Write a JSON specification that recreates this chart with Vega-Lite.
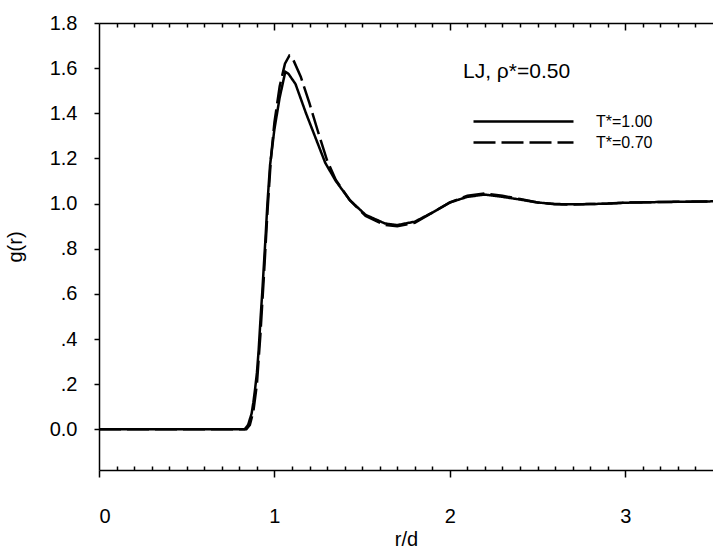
{
  "$schema": "https://vega.github.io/schema/vega-lite/v6.json",
  "width": 614,
  "height": 447,
  "autosize": "none",
  "padding": {"left": 99, "top": 23, "right": 0, "bottom": 83},
  "background": "white",
  "config": {
    "font": "Liberation Sans",
    "view": {"stroke": null},
    "axis": {"domainColor": "black", "tickColor": "black", "labelColor": "black", "titleColor": "black", "grid": false, "domainWidth": 1.5, "tickWidth": 1.5, "labelFontSize": 20, "titleFontSize": 20, "titleFontWeight": "normal"}
  },
  "data": {"values": [
    {"series": "T*=1.00", "r": 0, "g": 0},
    {"series": "T*=1.00", "r": 0.5, "g": 0},
    {"series": "T*=1.00", "r": 0.83, "g": 0},
    {"series": "T*=1.00", "r": 0.85, "g": 0.02},
    {"series": "T*=1.00", "r": 0.87, "g": 0.07},
    {"series": "T*=1.00", "r": 0.88, "g": 0.12},
    {"series": "T*=1.00", "r": 0.89, "g": 0.18},
    {"series": "T*=1.00", "r": 0.9, "g": 0.25},
    {"series": "T*=1.00", "r": 0.91, "g": 0.35},
    {"series": "T*=1.00", "r": 0.92, "g": 0.48},
    {"series": "T*=1.00", "r": 0.93, "g": 0.6},
    {"series": "T*=1.00", "r": 0.94, "g": 0.73},
    {"series": "T*=1.00", "r": 0.95, "g": 0.86},
    {"series": "T*=1.00", "r": 0.96, "g": 1.0},
    {"series": "T*=1.00", "r": 0.975, "g": 1.17},
    {"series": "T*=1.00", "r": 1.0, "g": 1.33},
    {"series": "T*=1.00", "r": 1.03, "g": 1.47},
    {"series": "T*=1.00", "r": 1.062, "g": 1.584},
    {"series": "T*=1.00", "r": 1.08, "g": 1.575},
    {"series": "T*=1.00", "r": 1.12, "g": 1.53},
    {"series": "T*=1.00", "r": 1.18, "g": 1.4},
    {"series": "T*=1.00", "r": 1.24, "g": 1.28},
    {"series": "T*=1.00", "r": 1.29, "g": 1.18},
    {"series": "T*=1.00", "r": 1.35, "g": 1.1},
    {"series": "T*=1.00", "r": 1.43, "g": 1.015},
    {"series": "T*=1.00", "r": 1.52, "g": 0.95},
    {"series": "T*=1.00", "r": 1.63, "g": 0.912},
    {"series": "T*=1.00", "r": 1.7, "g": 0.905},
    {"series": "T*=1.00", "r": 1.8, "g": 0.92},
    {"series": "T*=1.00", "r": 1.9, "g": 0.96},
    {"series": "T*=1.00", "r": 2.0, "g": 1.005},
    {"series": "T*=1.00", "r": 2.1, "g": 1.03},
    {"series": "T*=1.00", "r": 2.2, "g": 1.04},
    {"series": "T*=1.00", "r": 2.3, "g": 1.03},
    {"series": "T*=1.00", "r": 2.4, "g": 1.018},
    {"series": "T*=1.00", "r": 2.5, "g": 1.005},
    {"series": "T*=1.00", "r": 2.6, "g": 0.998},
    {"series": "T*=1.00", "r": 2.7, "g": 0.997},
    {"series": "T*=1.00", "r": 2.8, "g": 0.998},
    {"series": "T*=1.00", "r": 2.9, "g": 1.0},
    {"series": "T*=1.00", "r": 3.0, "g": 1.004},
    {"series": "T*=1.00", "r": 3.2, "g": 1.007},
    {"series": "T*=1.00", "r": 3.5, "g": 1.01},
    {"series": "T*=0.70", "r": 0, "g": 0},
    {"series": "T*=0.70", "r": 0.5, "g": 0},
    {"series": "T*=0.70", "r": 0.84, "g": 0},
    {"series": "T*=0.70", "r": 0.86, "g": 0.02},
    {"series": "T*=0.70", "r": 0.88, "g": 0.08},
    {"series": "T*=0.70", "r": 0.9, "g": 0.2},
    {"series": "T*=0.70", "r": 0.92, "g": 0.42},
    {"series": "T*=0.70", "r": 0.94, "g": 0.68},
    {"series": "T*=0.70", "r": 0.96, "g": 0.96},
    {"series": "T*=0.70", "r": 0.98, "g": 1.2},
    {"series": "T*=0.70", "r": 1.0, "g": 1.36},
    {"series": "T*=0.70", "r": 1.03, "g": 1.52},
    {"series": "T*=0.70", "r": 1.06, "g": 1.62},
    {"series": "T*=0.70", "r": 1.085, "g": 1.655},
    {"series": "T*=0.70", "r": 1.104, "g": 1.643},
    {"series": "T*=0.70", "r": 1.15, "g": 1.562},
    {"series": "T*=0.70", "r": 1.2, "g": 1.444},
    {"series": "T*=0.70", "r": 1.246, "g": 1.325},
    {"series": "T*=0.70", "r": 1.3, "g": 1.192},
    {"series": "T*=0.70", "r": 1.35, "g": 1.105},
    {"series": "T*=0.70", "r": 1.43, "g": 1.015},
    {"series": "T*=0.70", "r": 1.52, "g": 0.945},
    {"series": "T*=0.70", "r": 1.63, "g": 0.905},
    {"series": "T*=0.70", "r": 1.7, "g": 0.9},
    {"series": "T*=0.70", "r": 1.8, "g": 0.915},
    {"series": "T*=0.70", "r": 1.9, "g": 0.96},
    {"series": "T*=0.70", "r": 2.0, "g": 1.005},
    {"series": "T*=0.70", "r": 2.1, "g": 1.035},
    {"series": "T*=0.70", "r": 2.2, "g": 1.045},
    {"series": "T*=0.70", "r": 2.3, "g": 1.035},
    {"series": "T*=0.70", "r": 2.4, "g": 1.02},
    {"series": "T*=0.70", "r": 2.5, "g": 1.005},
    {"series": "T*=0.70", "r": 2.6, "g": 0.997},
    {"series": "T*=0.70", "r": 2.7, "g": 0.996},
    {"series": "T*=0.70", "r": 2.8, "g": 0.998},
    {"series": "T*=0.70", "r": 2.9, "g": 1.0},
    {"series": "T*=0.70", "r": 3.0, "g": 1.004},
    {"series": "T*=0.70", "r": 3.2, "g": 1.007},
    {"series": "T*=0.70", "r": 3.5, "g": 1.01}
  ]},
  "resolve": {"axis": {"x": "independent", "y": "independent"}},
  "layer": [
    {
      "mark": {"type": "line", "color": "black", "strokeWidth": 2.5, "clip": true},
      "encoding": {
        "x": {"field": "r", "type": "quantitative", "scale": {"domain": [0, 3.5], "nice": false, "zero": false},
          "axis": {"orient": "bottom", "values": [0, 1, 2, 3], "tickSize": 7, "labelPadding": 29, "title": "r/d", "titlePadding": 3, "format": "d"}},
        "y": {"field": "g", "type": "quantitative", "scale": {"domain": [-0.18, 1.8], "nice": false, "zero": false},
          "axis": {"orient": "left", "values": [0, 0.2, 0.4, 0.6, 0.8, 1.0, 1.2, 1.4, 1.6, 1.8], "tickSize": 5, "labelPadding": 17, "title": "g(r)", "titlePadding": 24,
            "labelExpr": "datum.value == 0 ? '0.0' : (datum.value >= 1 ? format(datum.value, '.1f') : replace(format(datum.value, '.1f'), '0.', '.'))"}},
        "strokeDash": {"field": "series", "type": "nominal",
          "scale": {"domain": ["T*=1.00", "T*=0.70"], "range": [[1, 0], [22, 6]]},
          "legend": {"orient": "none", "legendX": 364, "legendY": 38, "title": "LJ, ρ*=0.50", "titleFontSize": 21, "titleFontWeight": "normal", "titleColor": "black", "titlePadding": 28,
            "labelFontSize": 16, "labelColor": "black", "labelOffset": 101, "symbolType": "M-1,0H9", "symbolSize": 400, "symbolStrokeWidth": 2.5, "symbolStrokeColor": "black", "symbolOffset": 9, "rowPadding": 1}}
      }
    },
    {
      "mark": {"type": "line", "opacity": 0},
      "encoding": {
        "x": {"field": "r", "type": "quantitative", "axis": {"orient": "bottom", "values": [0.1,0.2,0.3,0.4,0.5,0.6,0.7,0.8,0.9,1.1,1.2,1.3,1.4,1.5,1.6,1.7,1.8,1.9,2.1,2.2,2.3,2.4,2.5,2.6,2.7,2.8,2.9,3.1,3.2,3.3,3.4], "tickSize": -4, "labels": false, "domain": false, "title": null}},
        "y": {"field": "g", "type": "quantitative", "axis": null}
      }
    },
    {
      "mark": {"type": "line", "opacity": 0},
      "encoding": {
        "x": {"field": "r", "type": "quantitative", "axis": {"orient": "top", "values": [0.1,0.2,0.3,0.4,0.5,0.6,0.7,0.8,0.9,1.1,1.2,1.3,1.4,1.5,1.6,1.7,1.8,1.9,2.1,2.2,2.3,2.4,2.5,2.6,2.7,2.8,2.9,3.1,3.2,3.3,3.4], "tickSize": -4, "labels": false, "domain": false, "title": null}},
        "y": {"field": "g", "type": "quantitative", "axis": null}
      }
    },
    {
      "mark": {"type": "line", "opacity": 0},
      "encoding": {
        "x": {"field": "r", "type": "quantitative", "axis": {"orient": "top", "values": [1, 2, 3], "tickSize": -7, "labels": false, "domain": true, "title": null}},
        "y": {"field": "g", "type": "quantitative", "axis": null}
      }
    }
  ]
}
